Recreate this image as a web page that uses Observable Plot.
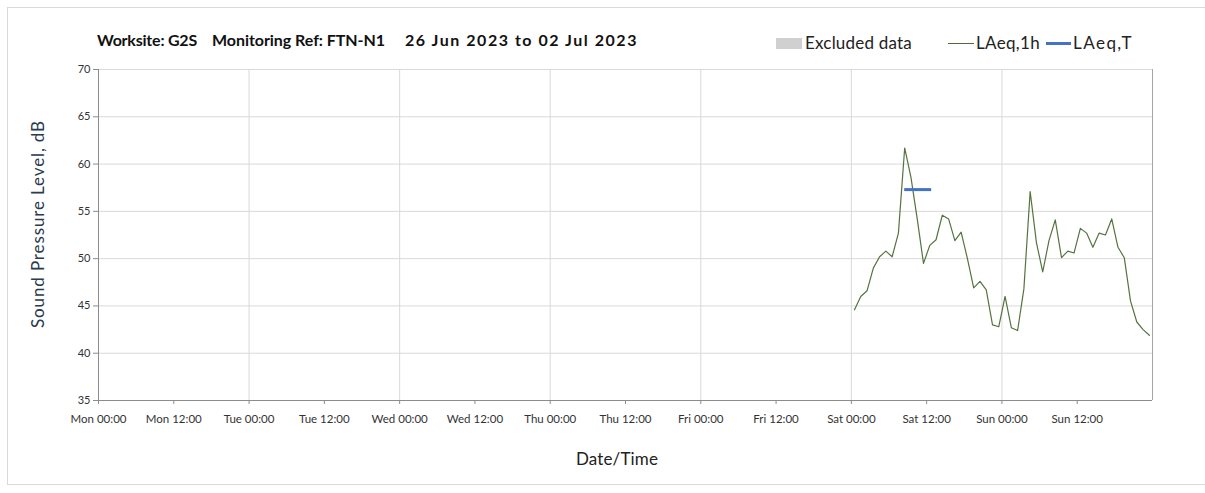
<!DOCTYPE html>
<html>
<head>
<meta charset="utf-8">
<script src="https://cdn.jsdelivr.net/npm/d3@7"></script>
<script src="https://cdn.jsdelivr.net/npm/@observablehq/plot@0.6"></script>
<style>
  html, body { margin: 0; padding: 0; background: #fff; }
  #wrap { position: relative; width: 1205px; height: 493px; overflow: hidden; font-family: Lato, "Open Sans", sans-serif; }
  #frame { position: absolute; left: 7px; top: 7px; width: 1210px; height: 478px; border: 1px solid #d9d9d9; box-sizing: border-box; }
  #chart { position: absolute; left: 0; top: 0; }
  .title { position: absolute; top: 30px; font-weight: bold; font-size: 16px; color: #111; white-space: pre; }
  .legend { position: absolute; top: 32px; font-size: 17px; color: #222; white-space: pre; }
  .sw { position: absolute; }
  .ylab { position: absolute; left: 37px; top: 224px; transform: translate(-50%, -50%) rotate(-90deg); font-size: 17px; color: #2b3a4c; white-space: nowrap; }
  .xlab { position: absolute; left: 617px; top: 458px; transform: translate(-50%, -50%); font-size: 17px; color: #222; white-space: nowrap; }
</style>
</head>
<body>
<div id="wrap">
  <div id="frame"></div>
  <div id="chart"></div>
  <div class="title fit" data-w="100" style="left:97px;">Worksite: G2S</div>
  <div class="title fit" data-w="173" style="left:212px;">Monitoring Ref: FTN-N1</div>
  <div class="title fit" data-w="233" style="left:405px;">26 Jun 2023 to 02 Jul 2023</div>
  <div class="sw" style="left:776px; top:38px; width:26px; height:11px; background:#d0d0d0;"></div>
  <div class="legend fit" data-w="107" style="left:805px;">Excluded data</div>
  <div class="sw" style="left:948px; top:43px; width:26px; height:1px; background:#4f6b3a;"></div>
  <div class="legend fit" data-w="64" style="left:976px;">LAeq,1h</div>
  <div class="sw" style="left:1046px; top:42px; width:25px; height:3px; background:#4472c4;"></div>
  <div class="legend fit" data-w="60" style="left:1073px;">LAeq,T</div>
  <div class="ylab fit" data-w="208">Sound Pressure Level, dB</div>
  <div class="xlab fit" data-w="82">Date/Time</div>
</div>
<script>
// ---- Data ----
// hourly LAeq,1h values from Sat 00:00 to Sun 23:00 (hours since Mon 00:00)
const firstHour = 120.5;
const laeq1h = [44.6, 46.0, 46.6, 49.0, 50.2, 50.8, 50.2, 52.7, 61.7, 58.6, 54.2, 49.5,
                51.4, 52.0, 54.6, 54.2, 51.9, 52.8, 50.0, 46.9, 47.6, 46.7, 43.0, 42.8,
                46.0, 42.7, 42.4, 46.8, 57.1, 51.7, 48.6, 51.9, 54.1, 50.1, 50.8, 50.6,
                53.2, 52.7, 51.2, 52.7, 52.5, 54.2, 51.2, 50.1, 45.5, 43.3, 42.5, 41.9];
const laeqTStart = [128.5];
const laeqTEnd = [132.8];
const laeqTValue = [57.3];
const xTickHours = [0, 12, 24, 36, 48, 60, 72, 84, 96, 108, 120, 132, 144, 156];
const xTickLabels = ["Mon 00:00", "Mon 12:00", "Tue 00:00", "Tue 12:00", "Wed 00:00", "Wed 12:00",
                     "Thu 00:00", "Thu 12:00", "Fri 00:00", "Fri 12:00", "Sat 00:00", "Sat 12:00",
                     "Sun 00:00", "Sun 12:00"];
const dayGridHours = [24, 48, 72, 96, 120, 144];
const yTicks = [35, 40, 45, 50, 55, 60, 65, 70];

const lineData = laeq1h.map((v, i) => ({t: firstHour + i, v}));
const tData = laeqTValue.map((v, i) => ({x1: laeqTStart[i], x2: laeqTEnd[i], v}));

const chart = Plot.plot({
  width: 1205,
  height: 493,
  marginLeft: 98,
  marginRight: 53,
  marginTop: 69,
  marginBottom: 93,
  style: {fontFamily: "Lato, 'Open Sans', sans-serif", background: "transparent"},
  x: {domain: [0, 168]},
  y: {domain: [35, 70]},
  marks: [
    Plot.ruleY(yTicks.filter(d => d > 35), {stroke: "#d9d9d9", strokeWidth: 1}),
    Plot.ruleX(dayGridHours, {stroke: "#d9d9d9", strokeWidth: 1}),
    Plot.ruleX([168], {stroke: "#a6a6a6", strokeWidth: 1}),
    Plot.ruleY([35], {stroke: "#8c8c8c", strokeWidth: 1}),
    Plot.ruleX([0], {stroke: "#8c8c8c", strokeWidth: 1}),
    Plot.axisY({ticks: yTicks, tickSize: 5, tickPadding: 3, fontSize: 11, label: null, stroke: "#8c8c8c", color: "#333"}),
    Plot.axisX({ticks: xTickHours, tickFormat: (d) => xTickLabels[xTickHours.indexOf(d)], tickSize: 4, tickPadding: 10, fontSize: 11.5, label: null, stroke: "#8c8c8c", color: "#333"}),
    Plot.line(lineData, {x: "t", y: "v", stroke: "#55733f", strokeWidth: 1.2}),
    Plot.ruleY(tData, {y: "v", x1: "x1", x2: "x2", stroke: "#4472c4", strokeWidth: 3})
  ]
});
document.getElementById("chart").appendChild(chart);

// fit text widths to the reference by letter spacing
document.querySelectorAll(".fit").forEach(el => {
  const target = +el.dataset.w;
  const w = el.getBoundingClientRect();
  const cur = el.classList.contains("ylab") ? w.height : w.width;
  const n = el.textContent.length;
  if (n > 1) el.style.letterSpacing = ((target - cur) / n) + "px";
});
</script>
</body>
</html>
